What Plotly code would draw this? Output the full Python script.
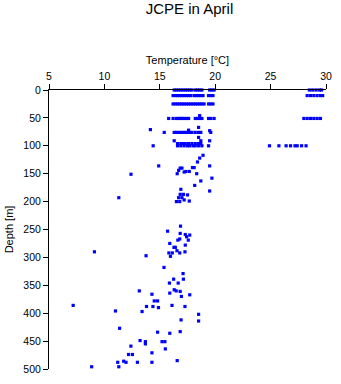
import plotly.graph_objects as go

# ---- data: temperature [°C] and depth [m] ----
# surface / standard-depth rows
t_0m = [16.3, 16.5, 16.7, 16.9, 17.1, 17.3, 17.5, 17.7, 17.9, 18.2, 18.4, 18.6, 18.8,
        19.5, 19.7, 19.9, 28.5, 28.8, 29.1, 29.4, 29.6]
t_10m = [16.2, 16.4, 16.6, 16.8, 17.0, 17.2, 17.4, 17.6, 17.8, 18.1, 18.3, 18.5, 18.7,
         18.9, 19.4, 19.6, 19.8, 28.3, 28.6, 28.9, 29.2, 29.5, 29.7]
t_25m = [16.2, 16.4, 16.6, 16.8, 17.0, 17.2, 17.4, 17.6, 17.8, 18.0, 18.2, 18.4, 18.6,
         18.8, 19.0, 19.4, 19.6, 19.8]
t_50m = [15.8, 16.2, 16.5, 16.7, 16.9, 17.0, 17.2, 17.4, 17.6, 18.2, 18.4, 18.6, 18.8,
         19.4, 19.6, 19.9, 28.0, 28.3, 28.6, 28.9, 29.2, 29.5]
t_75m = [15.4, 16.3, 16.5, 16.7, 16.9, 17.1, 17.3, 17.5, 17.7, 17.9, 18.2, 18.5, 18.7, 19.6]
t_100m = [14.4, 16.6, 16.9, 17.2, 17.5, 17.7, 18.0, 18.2, 18.5, 18.8, 19.4,
          24.9, 25.75, 26.4, 26.8, 27.2, 27.4, 27.8, 28.2]
t_96m = [16.6, 16.9, 17.1, 17.3, 17.6, 17.9, 18.2, 18.5, 18.7]

# scattered individual observations
t_scatter = [18.6, 14.15, 18.5, 19.5, 17.6, 18.5, 16.3, 18.7, 19.5,
             18.9, 18.6, 18.4, 14.9, 19.5, 16.84, 17.0, 17.95, 18.1, 16.7, 17.36, 17.66,
             17.2, 16.57, 18.33, 12.4, 19.7, 18.7, 18.15, 19.5, 16.9, 11.3,
             16.84, 17.13, 17.5, 16.7, 17.0, 16.5, 16.8, 17.2, 17.66,
             16.87, 15.7, 16.84, 17.3, 17.7, 17.42, 16.8, 16.63, 17.57, 15.9, 17.3,
             16.28, 16.4, 16.55, 17.27, 16.8, 15.82, 16.13, 15.96, 9.1, 13.76,
             15.38, 17.1, 16.25, 17.13, 15.87, 16.66, 16.3, 16.48, 16.84, 13.15,
             15.9, 14.29, 17.7, 16.95, 14.5, 14.8, 7.18, 13.8, 14.38, 14.88, 16.1,
             17.27, 11.0, 13.4,
             18.5, 16.92, 18.5, 11.37, 14.8, 15.9, 16.84, 13.22, 13.7, 13.7, 15.2,
             15.46, 12.39, 15.5, 14.29, 12.18, 12.53, 16.57, 11.2, 11.74, 11.95,
             12.98, 14.29, 8.85, 11.3]
d_scatter = [46, 71, 67, 73, 72, 85, 91, 91, 91,
             117, 122, 129, 136, 136, 140, 140, 139, 139, 144, 146, 146,
             147, 150, 150, 151, 158, 163, 171, 181, 178, 193,
             187, 187, 188, 193, 193, 200, 200, 197, 199,
             244, 253, 257, 259, 260, 263, 267, 269, 269, 275, 278,
             282, 282, 288, 290, 292, 292, 292, 298, 290, 297,
             318, 329, 339, 339, 346, 346, 358, 360, 361, 360,
             364, 366, 367, 370, 378, 378, 386, 388, 388, 390, 386,
             388, 396, 397,
             402, 412, 414, 427, 434, 436, 433, 449, 451, 455, 451,
             451, 459, 464, 471, 474, 474, 485, 488, 486, 488,
             488, 488, 496, 496]

rows = [(0, t_0m), (10, t_10m), (25, t_25m), (51, t_50m), (76, t_75m),
        (100, t_100m), (96, t_96m)]

temps, depths = [], []
for d, ts in rows:
    temps += ts
    depths += [d] * len(ts)
temps += t_scatter
depths += d_scatter

fig = go.Figure(go.Scatter(
    x=temps, y=depths, mode="markers",
    marker=dict(symbol="square", size=3.2, color="#0000ff", line=dict(width=0)),
    cliponaxis=False, showlegend=False,
))

axis_common = dict(
    showline=True, linecolor="black", linewidth=1,
    ticks="outside", ticklen=5, tickcolor="black", tickwidth=1,
    showgrid=False, zeroline=False, mirror=False,
    tickfont=dict(family="Liberation Sans, Arial, sans-serif", size=10.5, color="black"),
)

fig.update_layout(
    width=341, height=384,
    margin=dict(l=47, r=9, t=90, b=9, pad=0),
    paper_bgcolor="white", plot_bgcolor="white",
    font=dict(family="Liberation Sans, Arial, sans-serif", color="black"),
    title=dict(text="JCPE in April", x=(47 + 332) / 2 / 341, xanchor="center",
               y=1 - 9 / 384, yanchor="middle", yref="container",
               font=dict(size=15, color="black")),
    xaxis=dict(side="top", range=[5, 30], dtick=5, tick0=5,
               title=dict(text="Temperature [°C]", font=dict(size=11), standoff=2),
               **axis_common),
    yaxis=dict(range=[500, 0], dtick=50, tick0=0,
               title=dict(text="Depth [m]", font=dict(size=11), standoff=7),
               **axis_common),
)

fig.write_html("out.html")
